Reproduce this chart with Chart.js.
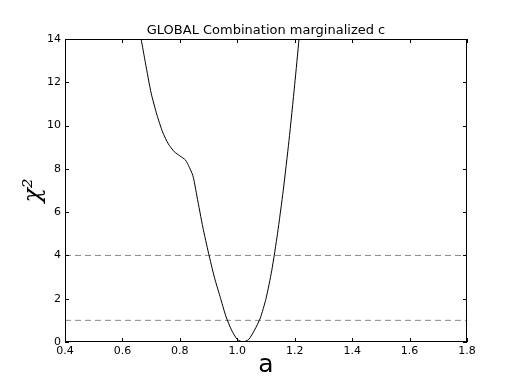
<!DOCTYPE html>
<html>
<head>
<meta charset="utf-8">
<script src="https://cdn.jsdelivr.net/npm/chart.js@4/dist/chart.umd.min.js"></script>
<style>
  html, body { margin: 0; padding: 0; background: #fff; }
  #wrap { width: 520px; height: 390px; }
</style>
</head>
<body>
<div id="wrap"><canvas id="chi2Chart"></canvas></div>
<script>
// chi^2 profile vs a
const aValues = [0.655, 0.665, 0.68, 0.70, 0.72, 0.74, 0.76, 0.78, 0.80, 0.82, 0.845, 0.86, 0.88, 0.90, 0.92, 0.94, 0.96, 0.98, 1.00, 1.02, 1.04, 1.06, 1.08, 1.10, 1.12, 1.14, 1.16, 1.18, 1.20, 1.215, 1.225];
const chi2Values = [14.6, 14.0, 12.9, 11.5, 10.5, 9.7, 9.15, 8.8, 8.6, 8.4, 7.7, 6.7, 5.3, 4.1, 3.0, 2.1, 1.2, 0.55, 0.12, 0.0, 0.12, 0.55, 1.1, 2.0, 3.3, 5.0, 7.0, 9.3, 11.9, 14.0, 15.5];
const refLevels = [4, 1];
const xRange = [0.4, 1.8];
const yRange = [0, 14];
const xTicks = [0.4, 0.6, 0.8, 1.0, 1.2, 1.4, 1.6, 1.8];
const yTicks = [0, 2, 4, 6, 8, 10, 12, 14];

const FONT = "'DejaVu Sans', sans-serif";

const curve = aValues.map((a, i) => ({ x: a, y: chi2Values[i] }));
const levelSets = refLevels.map(v => ({
  data: [{ x: xRange[0], y: v }, { x: xRange[1], y: v }],
  borderColor: '#888888',
  borderWidth: 1,
  borderDash: [6, 4],
  pointRadius: 0
}));

// matplotlib-like frame: box, inward ticks, title and axis labels
const framePlugin = {
  id: 'frame',
  afterDraw(chart){
    const ctx = chart.ctx;
    const a = chart.chartArea;
    const xs = chart.scales.x, ys = chart.scales.y;
    ctx.save();
    ctx.strokeStyle = '#000';
    ctx.lineWidth = 1;
    ctx.strokeRect(a.left + 0.5, a.top + 0.5, a.right - a.left - 1, a.bottom - a.top - 1);
    ctx.beginPath();
    xTicks.forEach(t => {
      const px = Math.round(xs.getPixelForValue(t)) + 0.5;
      ctx.moveTo(px, a.bottom); ctx.lineTo(px, a.bottom - 4);
      ctx.moveTo(px, a.top); ctx.lineTo(px, a.top + 4);
    });
    yTicks.forEach(t => {
      const py = Math.round(ys.getPixelForValue(t)) + 0.5;
      ctx.moveTo(a.left, py); ctx.lineTo(a.left + 4, py);
      ctx.moveTo(a.right, py); ctx.lineTo(a.right - 4, py);
    });
    ctx.stroke();

    const cx = (a.left + a.right) / 2;
    ctx.fillStyle = '#000';
    ctx.textAlign = 'center';
    ctx.textBaseline = 'alphabetic';
    ctx.font = '13px ' + FONT;
    ctx.fillText('GLOBAL Combination marginalized c', cx, 34);
    ctx.font = '25px ' + FONT;
    ctx.fillText('a', cx, 372);

    ctx.translate(40, (a.top + a.bottom) / 2);
    ctx.rotate(-Math.PI / 2);
    ctx.font = "italic 24px 'DejaVu Serif', serif";
    ctx.fillText('\u03c7\u00b2', 0, 0);
    ctx.restore();
  }
};

new Chart(document.getElementById('chi2Chart').getContext('2d'), {
  type: 'line',
  data: {
    datasets: [{
      data: curve,
      borderColor: '#000',
      borderWidth: 1,
      pointRadius: 0,
      tension: 0.2
    }, ...levelSets]
  },
  options: {
    responsive: true,
    maintainAspectRatio: false,
    animation: false,
    layout: { padding: { top: 39, right: 53, left: 0, bottom: 0 } },
    plugins: { legend: { display: false }, tooltip: { enabled: false } },
    scales: {
      x: {
        type: 'linear',
        min: xRange[0], max: xRange[1],
        afterFit: s => { s.height = 48; },
        afterBuildTicks: s => { s.ticks = xTicks.map(v => ({ value: v })); },
        grid: { display: false, drawTicks: false },
        border: { display: false },
        ticks: { color: '#000', font: { family: FONT, size: 11 }, padding: 3, maxRotation: 0, callback: v => v.toFixed(1) }
      },
      y: {
        type: 'linear',
        min: yRange[0], max: yRange[1],
        afterFit: s => { s.width = 65; },
        afterBuildTicks: s => { s.ticks = yTicks.map(v => ({ value: v })); },
        grid: { display: false, drawTicks: false },
        border: { display: false },
        ticks: { color: '#000', font: { family: FONT, size: 11 }, padding: 4, callback: v => String(v) }
      }
    }
  },
  plugins: [framePlugin]
});
</script>
</body>
</html>
